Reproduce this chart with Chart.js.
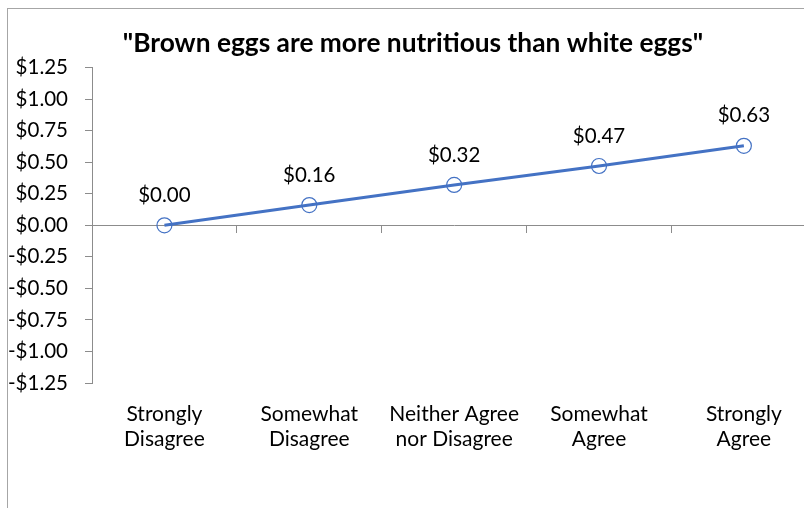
<!DOCTYPE html>
<html>
<head>
<meta charset="utf-8">
<script src="https://cdn.jsdelivr.net/npm/chart.js@4.4.1/dist/chart.umd.min.js"></script>
<style>
  html, body { margin: 0; padding: 0; background: #fff; overflow: hidden; width: 804px; height: 508px; }
  #frame { position: absolute; left: 7px; top: 8px; width: 817px; height: 540px; border: 1px solid #a6a6a6; }
</style>
</head>
<body>
<div id="frame"><canvas id="eggChart" width="817" height="540"></canvas></div>
<script>
// categories and values
const categories = [["Strongly", "Disagree"], ["Somewhat", "Disagree"], ["Neither Agree", "nor Disagree"], ["Somewhat", "Agree"], ["Strongly", "Agree"]];
const premium = [0.00, 0.16, 0.32, 0.47, 0.63];
const yMin = -1.25, yMax = 1.25, yStep = 0.25;

const FONT = "Lato, 'Open Sans', sans-serif";
const AXIS_GREY = "#8c8c8c";

function money(v) {
  const s = "$" + Math.abs(v).toFixed(2);
  return v < -0.0001 ? "-" + s : s;
}

// value labels above each point
const valueLabels = {
  id: "valueLabels",
  afterDatasetsDraw(chart) {
    const ctx = chart.ctx;
    const meta = chart.getDatasetMeta(0);
    ctx.save();
    ctx.font = "20.5px " + FONT;
    ctx.fillStyle = "#000";
    ctx.textAlign = "center";
    ctx.textBaseline = "middle";
    meta.data.forEach((pt, i) => {
      ctx.fillText(money(premium[i]), pt.x, pt.y - 30);
    });
    ctx.restore();
  }
};

const eggData = {
  labels: categories,
  datasets: [{
    label: "Premium",
    data: premium,
    borderColor: "#4472C4",
    borderWidth: 3,
    backgroundColor: "transparent",
    pointRadius: 7.5,
    pointHoverRadius: 7.5,
    pointBorderWidth: 1.2,
    pointBorderColor: "#4472C4",
    pointBackgroundColor: "transparent",
    tension: 0,
    xAxisID: "x"
  }]
};

const eggConfig = {
  type: "line",
  data: eggData,
  options: {
    responsive: false,
    animation: false,
    layout: { padding: { left: 0, right: 7, top: 0, bottom: 78 } },
    plugins: {
      legend: { display: false },
      tooltip: { enabled: false },
      title: {
        display: true,
        text: "\"Brown eggs are more nutritious than white eggs\"",
        color: "#000",
        font: { family: FONT, size: 26.3, weight: "bold" },
        padding: { top: 19, bottom: 8 }
      }
    },
    scales: {
      x: {
        type: "category",
        position: { y: 0 },
        offset: true,
        ticks: { display: false },
        grid: { display: true, offset: true, drawOnChartArea: false, drawTicks: true, tickLength: 7, color: AXIS_GREY },
        border: { display: true, color: AXIS_GREY, width: 1 }
      },
      x2: {
        type: "category",
        position: "bottom",
        offset: true,
        ticks: { color: "#000", padding: 19, maxRotation: 0, autoSkip: false, font: { family: FONT, size: 21, lineHeight: 1.19 } },
        grid: { display: false, drawTicks: false },
        border: { display: false }
      },
      y: {
        min: yMin,
        max: yMax,
        ticks: {
          stepSize: yStep,
          color: "#000",
          padding: 17,
          font: { family: FONT, size: 20.5 },
          callback: (v) => money(v)
        },
        grid: { drawOnChartArea: false, drawTicks: true, tickLength: 7, color: AXIS_GREY },
        border: { display: true, color: AXIS_GREY, width: 1 },
        afterFit: (scale) => { scale.width = 84; }
      }
    }
  },
  plugins: [valueLabels]
};

var eggChart = new Chart(document.getElementById("eggChart"), eggConfig);
</script>
</body>
</html>
